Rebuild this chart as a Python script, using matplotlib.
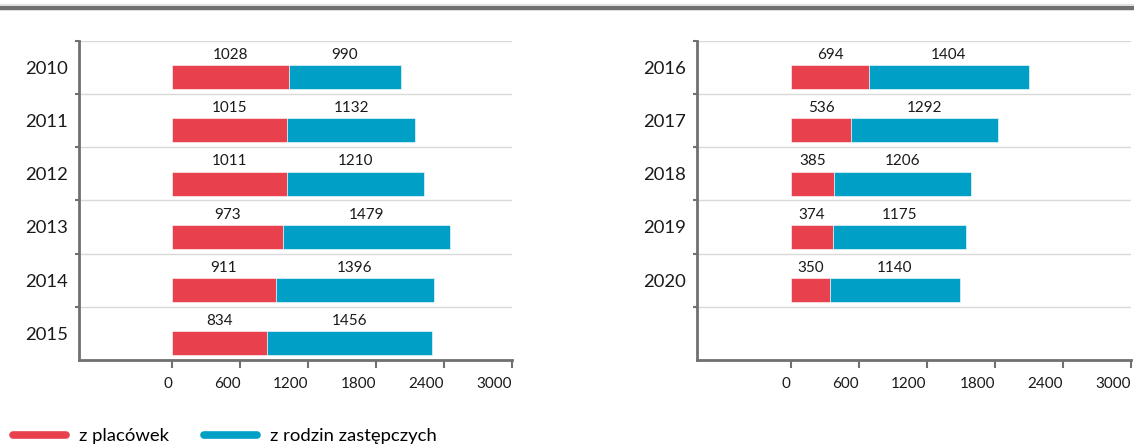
import matplotlib.pyplot as plt
from matplotlib.lines import Line2D

plt.rcParams['font.family'] = ['Lato', 'DejaVu Sans']

# dane
lata_l = ['2010', '2011', '2012', '2013', '2014', '2015']
placowki_l = [1028, 1015, 1011, 973, 911, 834]
rodziny_l = [990, 1132, 1210, 1479, 1396, 1456]

lata_p = ['2016', '2017', '2018', '2019', '2020']
placowki_p = [694, 536, 385, 374, 350]
rodziny_p = [1404, 1292, 1206, 1175, 1140]

x_ticks = [0, 600, 1200, 1800, 2400, 3000]

RED = '#E8404D'
BLUE = '#00A0C6'
AXC = '#707070'
GRID = '#d9d9d9'
TXT = '#1a1a1a'
N_ROWS = 6

fig = plt.figure(figsize=(11.34, 4.47), dpi=100)
ax_l = fig.add_axes([0.0697, 0.1946, 0.3818, 0.7144])
ax_p = fig.add_axes([0.6146, 0.1946, 0.3828, 0.7144])


def panel(ax, lata, plac, rodz):
    ys = [i + 0.185 for i in range(len(lata))]
    ax.barh(ys, plac, height=0.45, color=RED, edgecolor='white', linewidth=0.4)
    ax.barh(ys, rodz, left=plac, height=0.45, color=BLUE, edgecolor='white', linewidth=0.4)
    for i in range(len(lata)):
        ax.text(plac[i] / 2, i - 0.23, str(plac[i]), ha='center', va='center', fontsize=11, color=TXT)
        ax.text(plac[i] + rodz[i] / 2, i - 0.23, str(rodz[i]), ha='center', va='center', fontsize=11, color=TXT)
    ax.set_xlim(-825, 3000)
    ax.set_ylim(N_ROWS - 0.5, -0.5)
    # linie siatki na granicach wierszy
    for b in range(N_ROWS):
        ax.plot([-825, 3000], [b - 0.5, b - 0.5], color=GRID, lw=1, zorder=0)
    ax.set_yticks([b - 0.5 for b in range(N_ROWS)])
    ax.set_yticklabels([])
    ax.set_yticks(range(len(lata)), minor=True)
    ax.set_yticklabels(lata, minor=True, fontsize=13.3, color=TXT)
    ax.tick_params(axis='y', which='major', length=3, width=1.5, color=AXC)
    ax.tick_params(axis='y', which='minor', length=0, pad=8)
    ax.set_xticks(x_ticks)
    ax.set_xticklabels([str(v) for v in x_ticks], fontsize=11, color=TXT, ha='right')
    ax.tick_params(axis='x', length=6, width=1.5, color=AXC, pad=6)
    for s in ['top', 'right']:
        ax.spines[s].set_visible(False)
    for s in ['left', 'bottom']:
        ax.spines[s].set_color(AXC)
        ax.spines[s].set_linewidth(2)


panel(ax_l, lata_l, placowki_l, rodziny_l)
panel(ax_p, lata_p, placowki_p, rodziny_p)

# pasek u gory
fig.add_artist(Line2D([0, 1], [0.981, 0.981], color=AXC, lw=3.2, transform=fig.transFigure))
fig.add_artist(Line2D([0, 1], [0.99, 0.99], color='#e0e0e0', lw=0.8, transform=fig.transFigure))

handles = [Line2D([0], [0], color=RED, lw=5.5, solid_capstyle='round'),
           Line2D([0], [0], color=BLUE, lw=5.5, solid_capstyle='round')]
fig.legend(handles, ['z placówek', 'z rodzin zastępczych'], loc='center left',
           bbox_to_anchor=(0.0111, 0.0246), ncol=2, frameon=False, fontsize=13.3,
           handlelength=2.87, handletextpad=0.73, columnspacing=1.87,
           borderaxespad=0, borderpad=0)

fig.savefig('out.png', dpi=100)
